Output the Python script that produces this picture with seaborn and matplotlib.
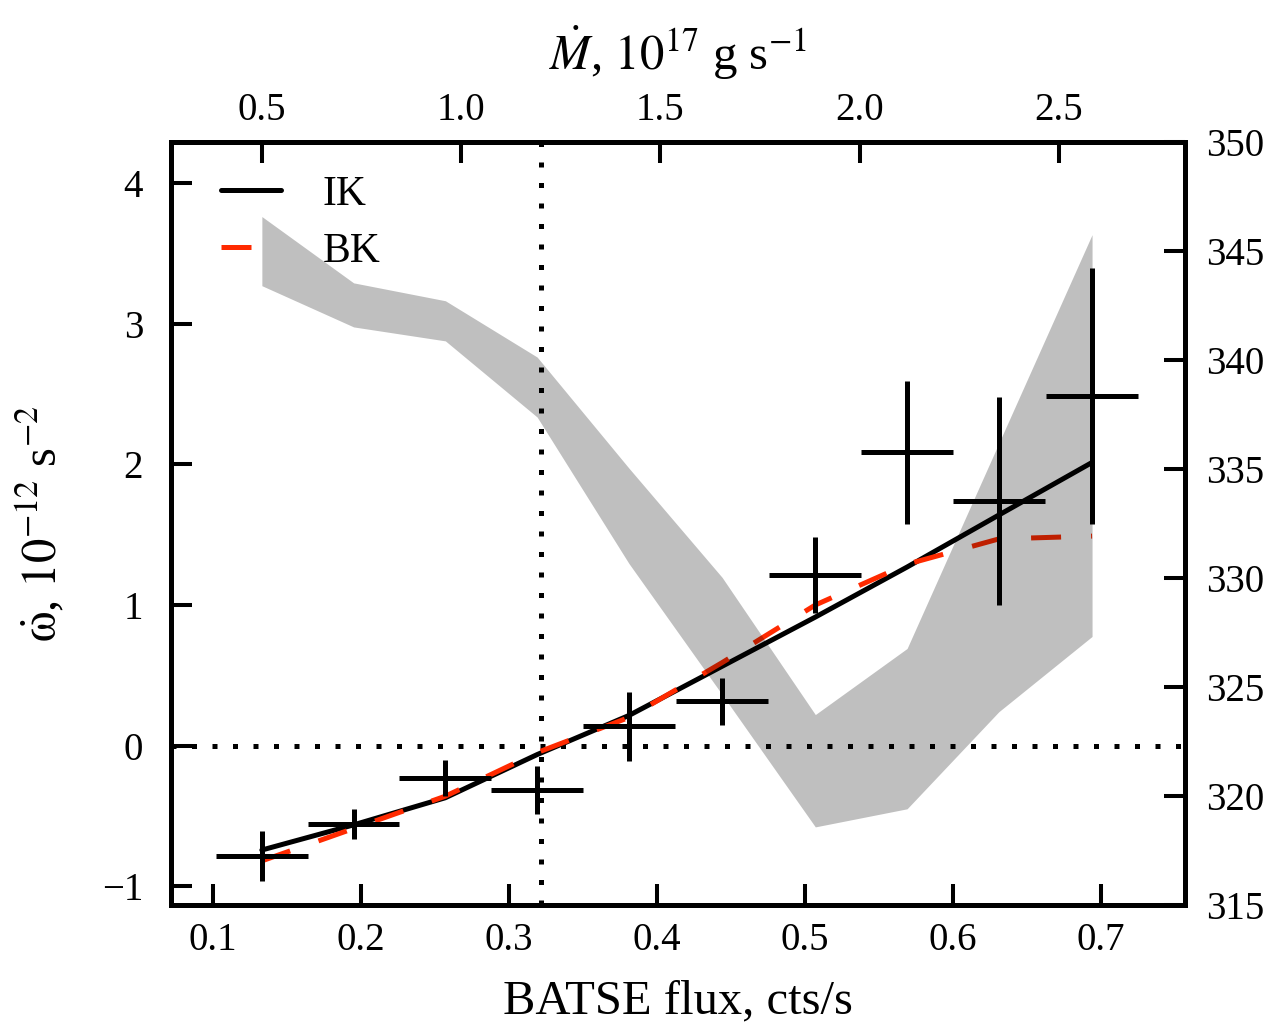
import numpy as np
import pandas as pd
import matplotlib
matplotlib.use("Agg")
import matplotlib.pyplot as plt
import seaborn as sns

# BATSE flux bins (cts/s) and measured spin-up rate (1e-12 s^-2)
flux = [0.133, 0.195, 0.257, 0.319, 0.381, 0.444, 0.507, 0.569, 0.631, 0.694]
flux_halfbin = [0.031] * 10
spinup = [-0.786, -0.555, -0.231, -0.314, 0.136, 0.314, 1.214, 2.086, 1.743, 2.486]
spinup_err = [0.18, 0.107, 0.13, 0.17, 0.245, 0.168, 0.27, 0.51, 0.74, 0.91]

# torque models
model_ik = [-0.743, -0.564, -0.371, -0.064, 0.214, 0.564, 0.914, 1.27, 1.64, 2.014]
model_bk = [-0.82, -0.59, -0.36, -0.05, 0.20, 0.59, 1.00, 1.29, 1.47, 1.49]

# shaded range on the right-hand scale
band_low = [343.39, 341.50, 340.86, 337.37, 330.66, 324.65, 318.58, 319.41, 323.86, 327.31]
band_high = [346.56, 343.52, 342.70, 340.12, 335.03, 330.02, 323.73, 326.76, 336.17, 345.73]

flux_ticks = [0.1, 0.2, 0.3, 0.4, 0.5, 0.6, 0.7]
omega_ticks = [-1, 0, 1, 2, 3, 4]
right_ticks = [315, 320, 325, 330, 335, 340, 345, 350]
mdot_ticks = [0.5, 1.0, 1.5, 2.0, 2.5]
mdot_crit = 1.2

# linear conversion flux -> accretion rate (1e17 g/s)
MDOT_SLOPE = 3.715
MDOT_FLUX0 = 0.1331
MDOT_AT0 = 0.5


def flux_to_mdot(f):
    return MDOT_SLOPE * (np.asarray(f) - MDOT_FLUX0) + MDOT_AT0


def mdot_to_flux(m):
    return (np.asarray(m) - MDOT_AT0) / MDOT_SLOPE + MDOT_FLUX0


sns.set_style("ticks", rc={
    "axes.edgecolor": "black",
    "axes.labelcolor": "black",
    "text.color": "black",
    "xtick.color": "black",
    "ytick.color": "black",
})
plt.rcParams["font.family"] = ["Liberation Serif", "DejaVu Serif"]
plt.rcParams["mathtext.fontset"] = "stix"

LW = 3.6
TICK_FS = 28
LABEL_FS = 35
RED = "#ff2a00"
DOTS = (0, (1, 3.1))

fig = plt.figure(figsize=(12.75, 10.25), dpi=100)
ax = fig.add_axes([0.13412, 0.11707, 0.79529, 0.74488])

df = pd.DataFrame({"flux": flux, "IK": model_ik, "BK": model_bk})

ax.axhline(0, color="k", lw=LW, linestyle=DOTS, zorder=1)
ax.axvline(mdot_to_flux(mdot_crit), color="k", lw=LW, linestyle=DOTS, zorder=1)

sns.lineplot(data=df, x="flux", y="IK", ax=ax, color="k", lw=LW, label="IK",
             sort=False, zorder=3)
sns.lineplot(data=df, x="flux", y="BK", ax=ax, color=RED, lw=LW, label="BK",
             linestyle=(0, (6, 6)), sort=False, zorder=4)

ax.errorbar(flux, spinup, xerr=flux_halfbin, yerr=spinup_err, fmt="none",
            ecolor="k", elinewidth=LW, capsize=0, zorder=5)

ax.set_xlim(0.0716, 0.7568)
ax.set_ylim(-1.134, 4.297)
ax.set_xticks(flux_ticks)
ax.set_xticklabels([f"{t:.1f}" for t in flux_ticks])
ax.set_yticks(omega_ticks)
ax.set_xlabel("BATSE flux, cts/s", fontsize=LABEL_FS, labelpad=15)
ax.set_ylabel(r"$\dot{\mathrm{\omega}}$, $10^{-12}$ s$^{-2}$", fontsize=LABEL_FS)
ax.yaxis.set_label_coords(-0.103, 0.5)
ax.tick_params(axis="x", direction="in", length=15, width=2.9, labelsize=TICK_FS,
               pad=12, top=False)
ax.tick_params(axis="y", direction="in", length=15, width=2.9, labelsize=TICK_FS,
               pad=20, right=False)
for s in ax.spines.values():
    s.set_linewidth(LW)
    s.set_visible(True)

leg = ax.legend(loc="upper left", bbox_to_anchor=(0.012, 1.005), frameon=False,
                fontsize=30, handlelength=1.45, handletextpad=1.0, labelspacing=0.45)

# right-hand scale with the shaded range, drawn over the lines
ax2 = ax.twinx()
ax2.fill_between(flux, band_low, band_high, color="k", alpha=0.25, lw=0, zorder=2)
ax2.set_ylim(315, 350)
ax2.set_yticks(right_ticks)
ax2.tick_params(axis="y", direction="in", length=15, width=2.9, labelsize=TICK_FS, pad=15)
for s in ax2.spines.values():
    s.set_linewidth(LW)

# top scale: accretion rate
sec = ax.secondary_xaxis("top", functions=(flux_to_mdot, mdot_to_flux))
sec.set_xticks(mdot_ticks)
sec.set_xticklabels([f"{t:.1f}" for t in mdot_ticks])
sec.tick_params(axis="x", direction="in", length=15, width=2.9, labelsize=TICK_FS, pad=9)
sec.set_xlabel(r"$\dot{M}$, $10^{17}$ g s$^{-1}$", fontsize=LABEL_FS, labelpad=16)
sec.spines["top"].set_linewidth(LW)

fig.savefig("out.png", dpi=100)
